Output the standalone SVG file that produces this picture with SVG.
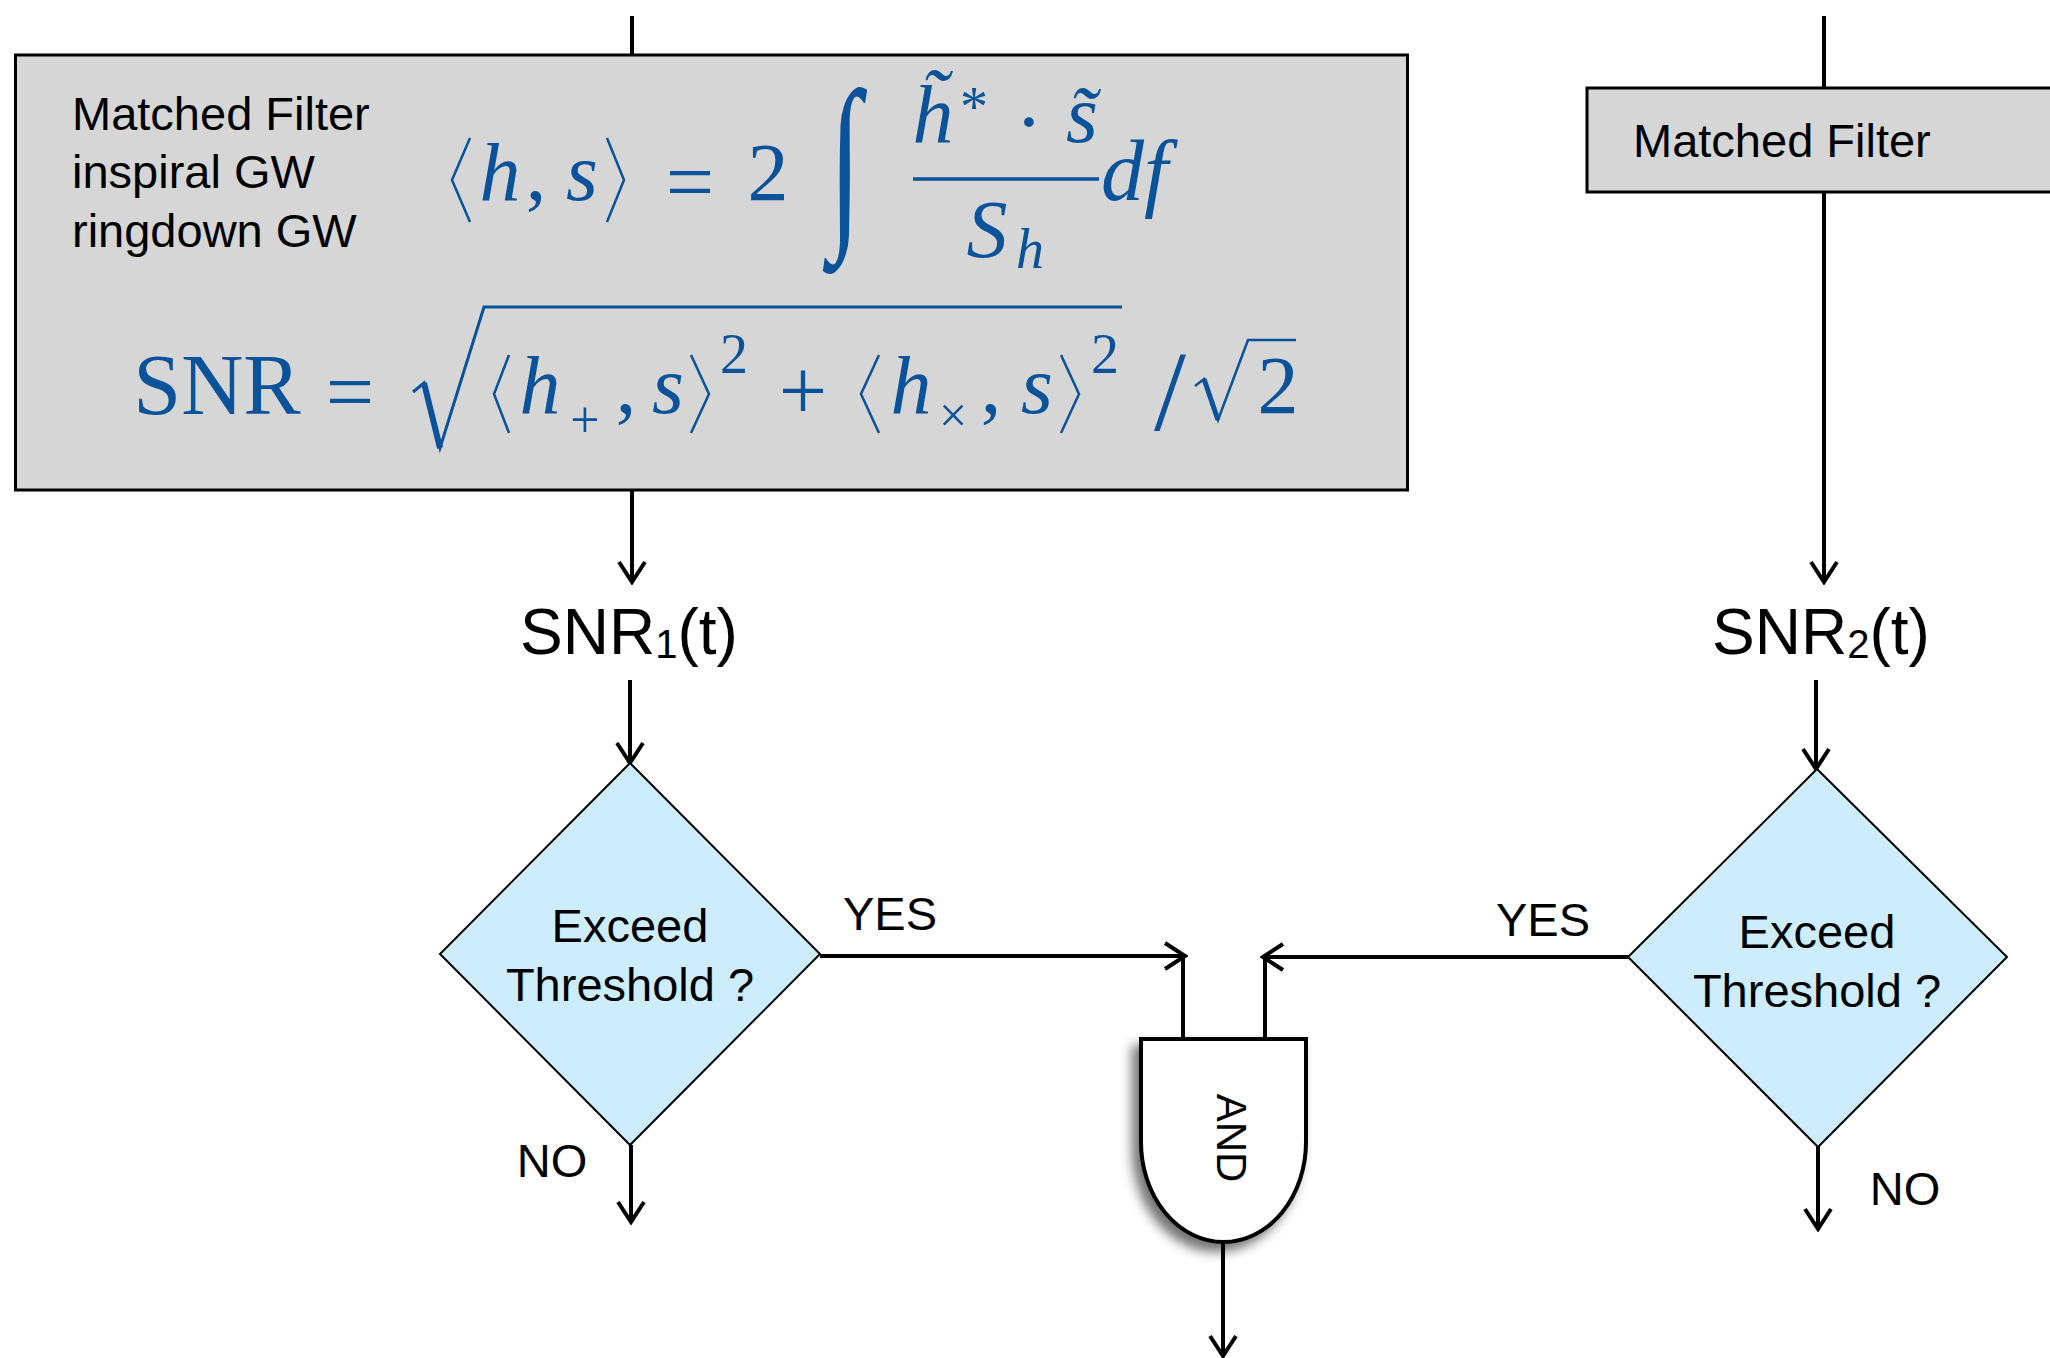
<svg xmlns="http://www.w3.org/2000/svg" width="2050" height="1358" viewBox="0 0 2050 1358">
<defs>
<style>
.lbl{font-family:"Liberation Sans",Arial,sans-serif;fill:#000}
.box{fill:#d6d6d6;stroke:#000;stroke-width:3}
.dia{fill:#cdedfd;stroke:#000;stroke-width:2}
.ln{fill:none;stroke:#000;stroke-width:4}
.m{font-family:"Liberation Serif","Times New Roman",serif;fill:#0a5299}
.mi{font-family:"Liberation Serif","Times New Roman",serif;font-style:italic;fill:#0a5299}
.ms{fill:none;stroke:#0a5299;stroke-width:2.5}
</style>
<marker id="arr" viewBox="0 0 26 30" refX="23" refY="15" markerWidth="26" markerHeight="30" markerUnits="userSpaceOnUse" orient="auto">
<path d="M3,2 L23,15 L3,28" fill="none" stroke="#000" stroke-width="4"/>
</marker>
<filter id="sh" x="-30%" y="-20%" width="160%" height="150%">
<feDropShadow dx="-7" dy="8" stdDeviation="6" flood-color="#000" flood-opacity="0.55"/>
</filter>
</defs>

<g id="connectors">
<line class="ln" x1="632" y1="16" x2="632" y2="55"/>
<line class="ln" x1="632" y1="490" x2="632" y2="582" marker-end="url(#arr)"/>
<line class="ln" x1="630" y1="680" x2="630" y2="763" marker-end="url(#arr)"/>
<line class="ln" x1="1824" y1="16" x2="1824" y2="88"/>
<line class="ln" x1="1824" y1="192" x2="1824" y2="582" marker-end="url(#arr)"/>
<line class="ln" x1="1816" y1="680" x2="1816" y2="769" marker-end="url(#arr)"/>
<line class="ln" x1="820" y1="956" x2="1185" y2="956" marker-end="url(#arr)"/>
<line class="ln" x1="1183" y1="956" x2="1183" y2="1039"/>
<line class="ln" x1="1628" y1="957" x2="1263" y2="957" marker-end="url(#arr)"/>
<line class="ln" x1="1265" y1="957" x2="1265" y2="1039"/>
<line class="ln" x1="631" y1="1145" x2="631" y2="1222" marker-end="url(#arr)"/>
<line class="ln" x1="1818" y1="1147" x2="1818" y2="1229" marker-end="url(#arr)"/>
<line class="ln" x1="1223" y1="1242" x2="1223" y2="1356" marker-end="url(#arr)"/>
</g>

<g id="mf1">
<rect class="box" x="15.5" y="55" width="1392" height="435"/>
<text class="lbl" font-size="47" x="72" y="130">Matched Filter</text>
<text class="lbl" font-size="47" x="72" y="188">inspiral GW</text>
<text class="lbl" font-size="47" x="72" y="247">ringdown GW</text>
<!-- formula 1 -->
<polyline class="ms" points="470,138 452,180 470,222"/>
<text class="mi" font-size="82" x="500" y="200" text-anchor="middle">h</text>
<text class="m" font-size="82" x="536" y="200" text-anchor="middle">,</text>
<text class="mi" font-size="82" x="582" y="200" text-anchor="middle">s</text>
<polyline class="ms" points="607,138 624,180 607,222"/>
<text class="m" font-size="86" x="690" y="211" text-anchor="middle">=</text>
<text class="m" font-size="82" x="768" y="200" text-anchor="middle">2</text>
<text class="m" font-size="150" transform="translate(845,223) scale(0.78,1.27)" text-anchor="middle">∫</text>
<text class="mi" font-size="82" x="933" y="142" text-anchor="middle">h̃</text>
<text class="m" font-size="56" x="974" y="126" text-anchor="middle">*</text>
<text class="m" font-size="82" x="1029" y="150" text-anchor="middle">·</text>
<text class="mi" font-size="82" x="1082" y="142" text-anchor="middle">s̃</text>
<line x1="913" y1="179" x2="1099" y2="179" stroke="#0a5299" stroke-width="3.5"/>
<text class="mi" font-size="82" x="987" y="257" text-anchor="middle">S</text>
<text class="mi" font-size="56" x="1030" y="268" text-anchor="middle">h</text>
<text class="mi" font-size="86" x="1101" y="200">df</text>
<!-- formula 2 -->
<text class="m" font-size="86" x="217" y="414" text-anchor="middle">SNR</text>
<text class="m" font-size="86" x="350" y="421" text-anchor="middle">=</text>
<polyline points="413,392 424,383 440,448 484,307 1122,307" fill="none" stroke="#0a5299" stroke-width="3"/>
<line x1="424" y1="383" x2="440" y2="448" stroke="#0a5299" stroke-width="6"/>
<polyline class="ms" points="509,355 494,394 509,433"/>
<text class="mi" font-size="82" x="540" y="413" text-anchor="middle">h</text>
<text class="m" font-size="52" x="585" y="437" text-anchor="middle">+</text>
<text class="m" font-size="82" x="626" y="413" text-anchor="middle">,</text>
<text class="mi" font-size="82" x="668" y="413" text-anchor="middle">s</text>
<polyline class="ms" points="691,355 709,394 691,433"/>
<text class="m" font-size="56" x="734" y="373" text-anchor="middle">2</text>
<text class="m" font-size="86" x="803" y="420" text-anchor="middle">+</text>
<polyline class="ms" points="879,355 861,394 879,433"/>
<text class="mi" font-size="82" x="911" y="413" text-anchor="middle">h</text>
<text class="m" font-size="50" x="953" y="432" text-anchor="middle">×</text>
<text class="m" font-size="82" x="991" y="413" text-anchor="middle">,</text>
<text class="mi" font-size="82" x="1037" y="413" text-anchor="middle">s</text>
<polyline class="ms" points="1061,355 1079,394 1061,433"/>
<text class="m" font-size="56" x="1105" y="373" text-anchor="middle">2</text>
<text class="m" font-size="115" x="1170" y="430" text-anchor="middle">/</text>
<polyline points="1195,386 1204,379 1218,420 1248,340 1296,340" fill="none" stroke="#0a5299" stroke-width="2.5"/>
<line x1="1204" y1="379" x2="1218" y2="420" stroke="#0a5299" stroke-width="5"/>
<text class="m" font-size="82" x="1278" y="413" text-anchor="middle">2</text>
</g>

<g id="mf2">
<rect class="box" x="1587" y="88" width="480" height="104"/>
<text class="lbl" font-size="47" x="1633" y="157">Matched Filter</text>
</g>

<g id="snr1">
<text class="lbl" font-size="64" x="520" y="654">SNR<tspan font-size="40" dy="4">1</tspan><tspan dy="-4">(t)</tspan></text>
</g>
<g id="snr2">
<text class="lbl" font-size="64" x="1712" y="654">SNR<tspan font-size="40" dy="4">2</tspan><tspan dy="-4">(t)</tspan></text>
</g>

<g id="thr1">
<polygon class="dia" points="630,763 820,954 630,1145 440,954"/>
<text class="lbl" font-size="47" x="630" y="942" text-anchor="middle">Exceed</text>
<text class="lbl" font-size="47" x="630" y="1001" text-anchor="middle">Threshold ?</text>
</g>
<g id="thr2">
<polygon class="dia" points="1817,769 2007,957 1818,1147 1628,957"/>
<text class="lbl" font-size="47" x="1817" y="948" text-anchor="middle">Exceed</text>
<text class="lbl" font-size="47" x="1817" y="1007" text-anchor="middle">Threshold ?</text>
</g>

<g id="labels">
<text class="lbl" font-size="47" x="890" y="930" text-anchor="middle">YES</text>
<text class="lbl" font-size="47" x="1543" y="936" text-anchor="middle">YES</text>
<text class="lbl" font-size="47" x="552" y="1177" text-anchor="middle">NO</text>
<text class="lbl" font-size="47" x="1905" y="1205" text-anchor="middle">NO</text>
</g>

<g id="and">
<path d="M1141,1039 H1306 V1142 A82.5,100 0 0 1 1141,1142 Z" fill="#fff" stroke="#000" stroke-width="4" filter="url(#sh)"/>
<text class="lbl" font-size="42" text-anchor="middle" transform="translate(1217,1138) rotate(90)">AND</text>
</g>
</svg>
